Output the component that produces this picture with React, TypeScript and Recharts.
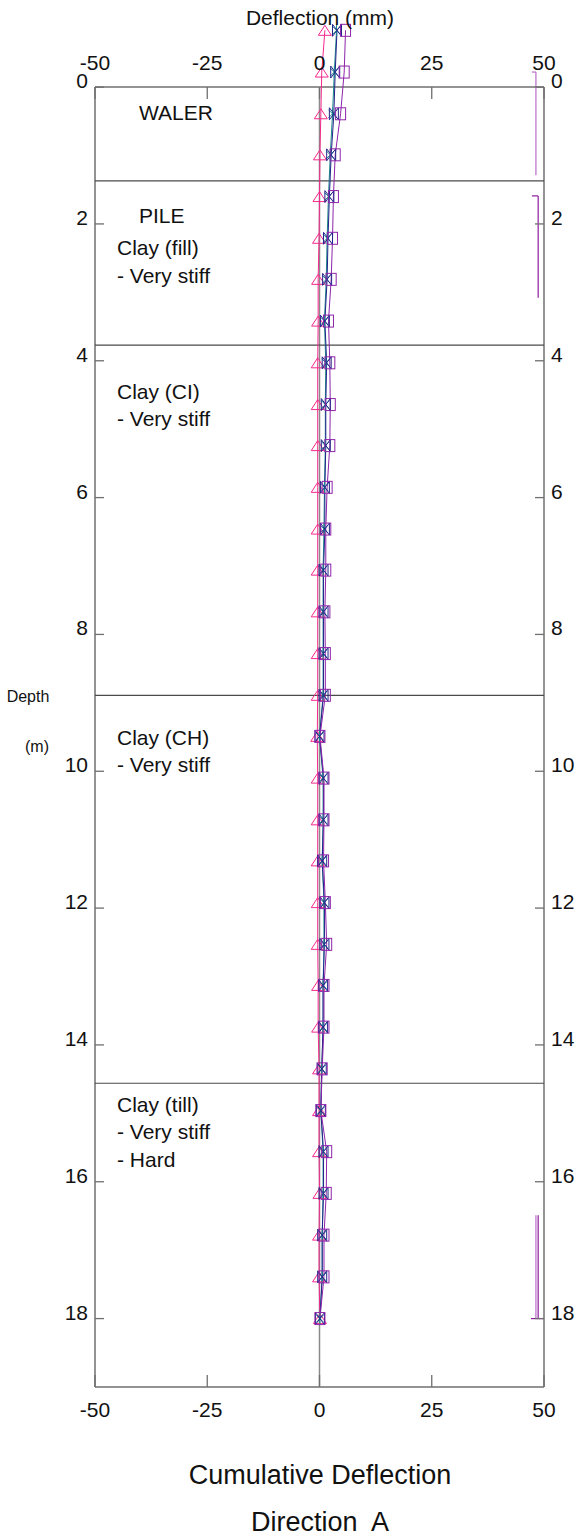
import React from "react";
import { LineChart, Line, XAxis, YAxis, ReferenceLine, ReferenceDot } from "recharts";

// depth of each reading (m) and cumulative deflection (mm) per survey
const depths = [
  -0.83, -0.22, 0.39, 0.99, 1.6, 2.21, 2.81, 3.42, 4.03, 4.64, 5.24, 5.85, 6.46, 7.06, 7.67, 8.28,
  8.89, 9.49, 10.1, 10.71, 11.31, 11.92, 12.53, 13.13, 13.74, 14.35, 14.96, 15.56, 16.17, 16.78, 17.39, 18.0
];
const surveyPink = [
  1.2, 0.5, 0.3, 0.1, 0.0, -0.1, -0.3, -0.3, -0.4, -0.4, -0.4, -0.4, -0.4, -0.4, -0.4, -0.4,
  -0.4, -0.5, -0.4, -0.4, -0.4, -0.4, -0.4, -0.3, -0.3, -0.1, -0.1, -0.1, 0.0, -0.1, -0.1, 0.1
];
const surveyTeal = [
  3.8, 3.3, 2.9, 2.4, 2.0, 1.7, 1.5, 1.1, 1.4, 1.3, 1.3, 1.1, 1.0, 0.8, 0.8, 0.8,
  0.8, 0.0, 0.8, 0.8, 0.6, 1.0, 1.0, 0.8, 0.8, 0.5, 0.3, 0.8, 0.8, 0.6, 0.6, 0.1
];
const surveyNavy = [
  3.9, 3.5, 3.2, 2.6, 2.2, 1.9, 1.7, 1.2, 1.6, 1.4, 1.4, 1.2, 1.2, 0.9, 0.9, 0.9,
  0.9, 0.0, 0.9, 0.9, 0.6, 1.1, 1.1, 0.8, 0.8, 0.5, 0.3, 0.9, 0.9, 0.6, 0.6, 0.1
];
const surveyPurple = [
  5.8, 5.5, 4.7, 3.5, 3.1, 2.9, 2.6, 2.0, 2.3, 2.4, 2.3, 1.7, 1.4, 1.4, 1.2, 1.3,
  1.3, 0.1, 1.0, 1.0, 0.9, 1.3, 1.6, 1.0, 1.0, 0.6, 0.3, 1.6, 1.5, 1.0, 1.0, 0.1
];

const xTicks = [-50, -25, 0, 25, 50];
const depthTicks = [0, 2, 4, 6, 8, 10, 12, 14, 16, 18];
const layerBounds = [1.37, 3.77, 8.89, 14.56];
const layerLabels = [
  { x: -40.2, depth: 0.37, text: "WALER" },
  { x: -40.2, depth: 1.87, text: "PILE" },
  { x: -45.1, depth: 2.35, text: "Clay (fill)" },
  { x: -45.1, depth: 2.76, text: "- Very stiff" },
  { x: -45.1, depth: 4.45, text: "Clay (CI)" },
  { x: -45.1, depth: 4.85, text: "- Very stiff" },
  { x: -45.1, depth: 9.5, text: "Clay (CH)" },
  { x: -45.1, depth: 9.9, text: "- Very stiff" },
  { x: -45.1, depth: 14.87, text: "Clay (till)" },
  { x: -45.1, depth: 15.27, text: "- Very stiff" },
  { x: -45.1, depth: 15.67, text: "- Hard" }
];
// depth brackets on the right edge: [x1, d1, x2, d2, colour]
const brackets: [number, number, number, number, string][] = [
  [47.3, -0.22, 48.2, -0.22, "#b86cc8"],
  [48.2, -0.22, 48.2, 1.29, "#b86cc8"],
  [47.3, 1.59, 48.7, 1.59, "#8e1c9e"],
  [48.7, 1.59, 48.7, 3.08, "#8e1c9e"],
  [48.2, 16.49, 48.2, 18.0, "#b86cc8"],
  [48.7, 16.49, 48.7, 18.0, "#8e1c9e"],
  [47.1, 18.0, 50, 18.0, "#8e1c9e"]
];

const data = depths.map((depth, i) => ({
  depth,
  pink: surveyPink[i],
  teal: surveyTeal[i],
  navy: surveyNavy[i],
  purple: surveyPurple[i]
}));

const W = 579;
const H = 1539;
const BOTTOM_AXIS_H = 40;
const MARGIN = { top: 5, right: 0, bottom: 112, left: 55 };
const Y_MIN = -1.2;
const Y_MAX = 19;
const PLOT_H = H - MARGIN.top - MARGIN.bottom - BOTTOM_AXIS_H;
// distance from the plot bottom (depth 19) up to the depth-0 frame line
const ZERO_FROM_BOTTOM = ((Y_MAX - 0) / (Y_MAX - Y_MIN)) * PLOT_H;
const FONT = "'Liberation Sans', Arial, sans-serif";
const FRAME = "#6f6f6f";
const PINK = "#f5288c";
const TEAL = "#1b8a8a";
const NAVY = "#24248c";
const PURPLE = "#8e24aa";
const FS = 21;

// draws the x tick on both the bottom edge and the top (depth 0) edge
const XTick = (props: any) => {
  const { x, y, payload } = props;
  const yTop = y - ZERO_FROM_BOTTOM;
  return (
    <g>
      <line x1={x} x2={x} y1={y} y2={y - 12} stroke={FRAME} strokeWidth={1.3} />
      <text x={x} y={y + 30} textAnchor="middle" fontSize={FS} fontFamily={FONT} fill="#111">
        {payload.value}
      </text>
      <line x1={x} x2={x} y1={yTop} y2={yTop + 12} stroke={FRAME} strokeWidth={1.3} />
      <text x={x} y={yTop - 17} textAnchor="middle" fontSize={FS} fontFamily={FONT} fill="#111">
        {payload.value}
      </text>
    </g>
  );
};

const LeftTick = (props: any) => {
  const { x, y, payload } = props;
  return (
    <g>
      <line x1={x} x2={x + 9} y1={y} y2={y} stroke={FRAME} strokeWidth={1.3} />
      <text x={x - 7} y={y + 1} textAnchor="end" fontSize={FS} fontFamily={FONT} fill="#111">
        {payload.value}
      </text>
    </g>
  );
};

const RightTick = (props: any) => {
  const { x, y, payload } = props;
  return (
    <g>
      <line x1={x - 9} x2={x} y1={y} y2={y} stroke={FRAME} strokeWidth={1.3} />
      <text x={x + 7} y={y + 1} textAnchor="start" fontSize={FS} fontFamily={FONT} fill="#111">
        {payload.value}
      </text>
    </g>
  );
};

const triangleDot = (p: any) => (
  <path
    key={`t-${p.index}`}
    d={`M${p.cx},${p.cy - 5} L${p.cx + 6.5},${p.cy + 5} L${p.cx - 6.5},${p.cy + 5} Z`}
    fill="none"
    stroke={PINK}
    strokeWidth={1}
  />
);
const starDot = (p: any) => (
  <path
    key={`s-${p.index}`}
    d={`M${p.cx - 4},${p.cy - 4} L${p.cx + 4},${p.cy + 4} M${p.cx - 4},${p.cy + 4} L${p.cx + 4},${p.cy - 4} M${p.cx},${p.cy - 6} L${p.cx},${p.cy + 6}`}
    fill="none"
    stroke={TEAL}
    strokeWidth={1}
  />
);
const bowtieDot = (p: any) => (
  <path
    key={`b-${p.index}`}
    d={`M${p.cx - 4.5},${p.cy - 6} L${p.cx + 4.5},${p.cy + 6} L${p.cx + 4.5},${p.cy - 6} L${p.cx - 4.5},${p.cy + 6} Z`}
    fill="none"
    stroke={NAVY}
    strokeWidth={1}
  />
);
const squareDot = (p: any) => (
  <rect
    key={`q-${p.index}`}
    x={p.cx - 5}
    y={p.cy - 6}
    width={10}
    height={12}
    fill="none"
    stroke={PURPLE}
    strokeWidth={1}
  />
);

const AnnoLabel = (text: string) => (props: any) => {
  const { viewBox } = props;
  return (
    <text x={viewBox.x} y={viewBox.y} dominantBaseline="central" fontSize={FS} fontFamily={FONT} fill="#111">
      {text}
    </text>
  );
};

const ax = { xAxisId: "b", yAxisId: "l" };

const overlayText = (text: string, x: number, y: number, size: number) => (
  <div
    style={{
      position: "absolute",
      left: x,
      top: y,
      transform: "translate(-50%, -50%)",
      fontFamily: FONT,
      fontSize: size,
      whiteSpace: "pre",
      color: "#111"
    }}
  >
    {text}
  </div>
);

export default function App() {
  return (
    <div style={{ position: "absolute", left: 0, top: 0, width: W, height: H, background: "#fff" }}>
      <LineChart width={W} height={H} data={data} layout="vertical" margin={MARGIN}>
        <XAxis
          xAxisId="b"
          type="number"
          domain={[-50, 50]}
          ticks={xTicks}
          interval={0}
          orientation="bottom"
          height={BOTTOM_AXIS_H}
          axisLine={false}
          tickLine={false}
          tickSize={0}
          tickMargin={0}
          tick={<XTick />}
        />
        <YAxis
          yAxisId="l"
          dataKey="depth"
          type="number"
          domain={[Y_MIN, Y_MAX]}
          ticks={depthTicks}
          interval={0}
          width={40}
          axisLine={false}
          tickLine={false}
          tickSize={0}
          tickMargin={0}
          tick={<LeftTick />}
        />
        <YAxis
          yAxisId="r"
          dataKey="depth"
          type="number"
          orientation="right"
          domain={[Y_MIN, Y_MAX]}
          ticks={depthTicks}
          interval={0}
          width={35}
          axisLine={false}
          tickLine={false}
          tickSize={0}
          tickMargin={0}
          tick={<RightTick />}
        />

        {/* plot frame and zero line */}
        <ReferenceLine {...ax} segment={[{ x: -50, y: 0 }, { x: 50, y: 0 }]} stroke={FRAME} strokeWidth={1.5} />
        <ReferenceLine {...ax} segment={[{ x: -50, y: Y_MAX }, { x: 50, y: Y_MAX }]} stroke={FRAME} strokeWidth={1.5} />
        <ReferenceLine {...ax} segment={[{ x: -50, y: 0 }, { x: -50, y: Y_MAX }]} stroke={FRAME} strokeWidth={1.5} />
        <ReferenceLine {...ax} segment={[{ x: 50, y: 0 }, { x: 50, y: Y_MAX }]} stroke={FRAME} strokeWidth={1.5} />
        <ReferenceLine {...ax} segment={[{ x: 0, y: 0 }, { x: 0, y: Y_MAX }]} stroke="#8a8a8a" strokeWidth={1.5} />
        {layerBounds.map((d) => (
          <ReferenceLine key={`lb-${d}`} {...ax} y={d} stroke="#4a4a4a" strokeWidth={1.2} />
        ))}
        {brackets.map(([x1, d1, x2, d2, c], i) => (
          <ReferenceLine key={`br-${i}`} {...ax} segment={[{ x: x1, y: d1 }, { x: x2, y: d2 }]} stroke={c} strokeWidth={1.2} />
        ))}
        {layerLabels.map((l) => (
          <ReferenceDot
            key={`ll-${l.text}-${l.depth}`}
            {...ax}
            x={l.x}
            y={l.depth}
            r={0}
            fill="none"
            stroke="none"
            label={AnnoLabel(l.text)}
          />
        ))}

        <Line {...ax} dataKey="pink" stroke={PINK} strokeWidth={1} dot={triangleDot} isAnimationActive={false} />
        <Line {...ax} dataKey="teal" stroke={TEAL} strokeWidth={1} dot={starDot} isAnimationActive={false} />
        <Line {...ax} dataKey="navy" stroke={NAVY} strokeWidth={1} dot={bowtieDot} isAnimationActive={false} />
        <Line {...ax} dataKey="purple" stroke={PURPLE} strokeWidth={1} dot={squareDot} isAnimationActive={false} />
      </LineChart>
      {overlayText("Deflection (mm)", 320, 18, FS)}
      {overlayText("Depth", 28, 697, 16)}
      {overlayText("(m)", 37, 747, 16)}
      {overlayText("Cumulative Deflection", 320, 1475, 27)}
      {overlayText("Direction  A", 320, 1522, 27)}
    </div>
  );
}
